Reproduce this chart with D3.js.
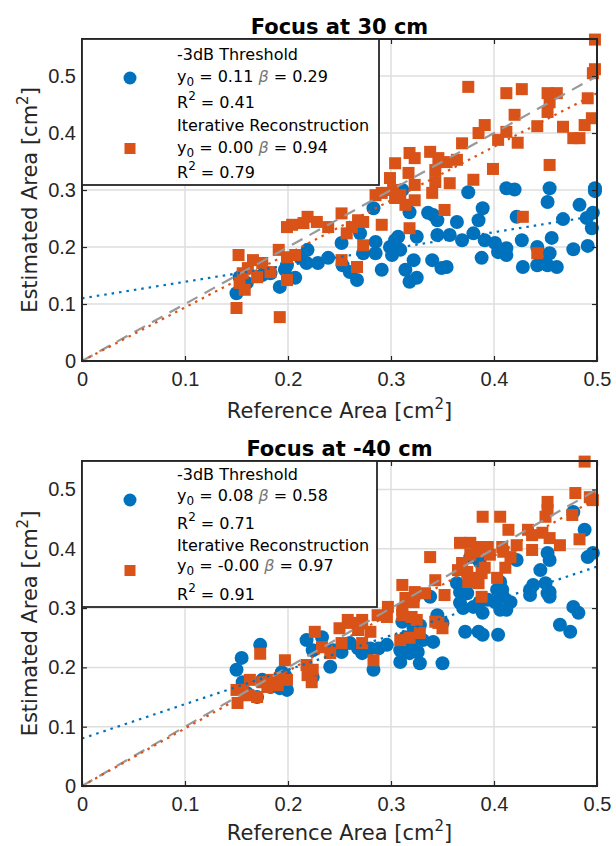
<!DOCTYPE html>
<html>
<head>
<meta charset="utf-8">
<script src="https://cdn.jsdelivr.net/npm/d3@7"></script>
<style>
  body { margin: 0; background: #fff; }
  svg { display: block; font-family: "DejaVu Sans", sans-serif; }
  .tick line { stroke: #262626; stroke-width: 1.2; }
  .tick text { fill: #262626; font-size: 20px; }
  .domain { display: none; }
</style>
</head>
<body>
<div id="chart"></div>
<script>
// ---- data ----
const xTicks = [0, 0.1, 0.2, 0.3, 0.4, 0.5];
const yTicks = [0, 0.1, 0.2, 0.3, 0.4, 0.5];
const titles = ["Focus at 30 cm", "Focus at -40 cm"];
const seriesNames = ["-3dB Threshold", "Iterative Reconstruction"];

// fit parameters: [y0, beta, R2] for threshold / iterative
const fit30 = [["0.11", "0.29", "0.41"], ["0.00", "0.94", "0.79"]];
const fit40 = [["0.08", "0.58", "0.71"], ["-0.00", "0.97", "0.91"]];
const fitNum30 = [[0.11, 0.29], [0.00, 0.94]];
const fitNum40 = [[0.08, 0.58], [0.00, 0.97]];

const blue30 = [[0.375,0.296],[0.412,0.303],[0.420,0.301],[0.454,0.303],[0.452,0.279],[0.498,0.303],[0.498,0.298],
  [0.389,0.268],[0.385,0.247],[0.364,0.244],[0.341,0.256],[0.336,0.260],[0.345,0.247],[0.483,0.274],[0.490,0.251],
  [0.496,0.260],[0.495,0.233],[0.467,0.249],[0.422,0.253],[0.357,0.221],[0.369,0.212],[0.380,0.224],[0.345,0.221],
  [0.391,0.212],[0.401,0.207],[0.404,0.191],[0.412,0.198],[0.412,0.186],[0.427,0.212],[0.456,0.216],[0.442,0.200],
  [0.454,0.189],[0.477,0.196],[0.491,0.202],[0.388,0.181],[0.428,0.165],[0.442,0.168],[0.452,0.168],[0.461,0.165],
  [0.325,0.218],[0.318,0.261],[0.307,0.218],[0.304,0.212],[0.301,0.186],[0.309,0.195],[0.314,0.160],[0.322,0.177],
  [0.318,0.139],[0.325,0.146],[0.291,0.160],[0.285,0.209],[0.285,0.189],[0.273,0.189],[0.270,0.224],[0.283,0.268],
  [0.311,0.300],[0.299,0.200],[0.340,0.177],[0.349,0.163],[0.354,0.165],[0.252,0.207],[0.253,0.168],[0.260,0.156],
  [0.267,0.142],[0.239,0.181],[0.229,0.172],[0.218,0.172],[0.219,0.195],[0.212,0.181],[0.207,0.146],[0.197,0.160],
  [0.192,0.130],[0.199,0.168],[0.183,0.154],[0.175,0.151],[0.150,0.119],[0.153,0.147],[0.160,0.137],[0.450,0.172]];

const orange30 = [[0.498,0.564],[0.498,0.512],[0.496,0.505],[0.375,0.481],[0.412,0.470],[0.427,0.477],[0.452,0.470],
  [0.461,0.470],[0.491,0.461],[0.454,0.454],[0.452,0.437],[0.420,0.432],[0.495,0.426],[0.488,0.414],[0.442,0.412],
  [0.467,0.411],[0.391,0.414],[0.385,0.400],[0.412,0.402],[0.404,0.388],[0.423,0.383],[0.477,0.391],[0.483,0.391],
  [0.369,0.382],[0.454,0.344],[0.399,0.337],[0.338,0.367],[0.318,0.365],[0.323,0.356],[0.346,0.356],[0.354,0.349],
  [0.364,0.353],[0.304,0.347],[0.343,0.335],[0.299,0.321],[0.317,0.330],[0.323,0.309],[0.343,0.314],[0.357,0.312],
  [0.380,0.318],[0.340,0.295],[0.285,0.291],[0.291,0.295],[0.302,0.300],[0.309,0.291],[0.304,0.286],[0.314,0.274],
  [0.323,0.282],[0.318,0.233],[0.428,0.253],[0.352,0.265],[0.442,0.189],[0.291,0.239],[0.273,0.244],[0.268,0.247],
  [0.262,0.235],[0.257,0.224],[0.252,0.259],[0.273,0.203],[0.252,0.177],[0.267,0.165],[0.219,0.253],[0.228,0.244],
  [0.215,0.242],[0.239,0.235],[0.199,0.235],[0.204,0.239],[0.191,0.195],[0.199,0.182],[0.207,0.186],[0.199,0.142],
  [0.152,0.186],[0.166,0.177],[0.161,0.163],[0.156,0.154],[0.170,0.147],[0.158,0.125],[0.153,0.137],[0.175,0.172],
  [0.183,0.156],[0.150,0.093],[0.192,0.077]];

const blue40 = [[0.477,0.462],[0.488,0.432],[0.491,0.386],[0.496,0.393],[0.452,0.393],[0.454,0.381],[0.445,0.364],
  [0.422,0.381],[0.377,0.386],[0.386,0.378],[0.438,0.339],[0.435,0.331],[0.450,0.342],[0.454,0.327],[0.454,0.319],
  [0.406,0.344],[0.408,0.331],[0.409,0.319],[0.401,0.310],[0.416,0.310],[0.412,0.297],[0.406,0.297],[0.403,0.331],
  [0.394,0.314],[0.364,0.342],[0.374,0.325],[0.367,0.309],[0.380,0.302],[0.370,0.300],[0.386,0.310],[0.389,0.292],
  [0.338,0.319],[0.345,0.288],[0.322,0.317],[0.477,0.302],[0.482,0.292],[0.372,0.260],[0.385,0.260],[0.389,0.255],
  [0.404,0.255],[0.464,0.272],[0.474,0.260],[0.350,0.275],[0.341,0.243],[0.350,0.207],[0.326,0.226],[0.328,0.207],
  [0.318,0.224],[0.309,0.209],[0.309,0.229],[0.317,0.234],[0.314,0.251],[0.322,0.246],[0.331,0.246],[0.311,0.277],
  [0.322,0.266],[0.328,0.271],[0.296,0.238],[0.288,0.232],[0.280,0.232],[0.272,0.224],[0.283,0.196],[0.252,0.226],
  [0.244,0.229],[0.241,0.201],[0.224,0.229],[0.218,0.246],[0.233,0.251],[0.224,0.184],[0.192,0.165],[0.199,0.162],
  [0.183,0.167],[0.194,0.192],[0.197,0.187],[0.170,0.150],[0.160,0.157],[0.173,0.238],[0.155,0.216],[0.150,0.196],
  [0.156,0.175],[0.175,0.179],[0.260,0.241],[0.268,0.232],[0.367,0.327],[0.435,0.322],[0.452,0.325]];

const orange40 = [[0.488,0.547],[0.479,0.494],[0.493,0.487],[0.496,0.482],[0.452,0.479],[0.452,0.465],[0.450,0.454],
  [0.476,0.457],[0.389,0.454],[0.406,0.454],[0.414,0.432],[0.433,0.432],[0.437,0.423],[0.447,0.427],[0.454,0.418],
  [0.464,0.406],[0.483,0.416],[0.367,0.410],[0.377,0.410],[0.386,0.403],[0.394,0.403],[0.408,0.403],[0.422,0.406],
  [0.437,0.398],[0.338,0.386],[0.377,0.390],[0.384,0.395],[0.396,0.390],[0.409,0.395],[0.416,0.386],[0.369,0.376],
  [0.365,0.364],[0.374,0.361],[0.380,0.351],[0.388,0.359],[0.391,0.368],[0.385,0.342],[0.375,0.344],[0.403,0.351],
  [0.411,0.368],[0.343,0.347],[0.352,0.322],[0.311,0.339],[0.323,0.327],[0.333,0.325],[0.314,0.317],[0.322,0.310],
  [0.388,0.319],[0.297,0.302],[0.287,0.288],[0.296,0.285],[0.311,0.288],[0.320,0.285],[0.272,0.280],[0.258,0.280],
  [0.311,0.297],[0.325,0.280],[0.343,0.277],[0.350,0.266],[0.346,0.275],[0.328,0.258],[0.318,0.250],[0.309,0.246],
  [0.250,0.266],[0.260,0.275],[0.270,0.275],[0.280,0.260],[0.268,0.263],[0.252,0.241],[0.272,0.241],[0.233,0.234],
  [0.226,0.260],[0.241,0.224],[0.283,0.212],[0.173,0.223],[0.197,0.212],[0.218,0.204],[0.224,0.196],[0.219,0.187],
  [0.223,0.175],[0.192,0.182],[0.199,0.179],[0.184,0.179],[0.175,0.175],[0.163,0.179],[0.156,0.162],[0.150,0.162],
  [0.160,0.153],[0.170,0.150],[0.180,0.167],[0.190,0.170],[0.151,0.140]];

const BLUE = "#0072BD", ORANGE = "#D95319", INK = "#262626";

const svg = d3.select("#chart").append("svg")
  .attr("width", 616).attr("height", 846);

function drawPanel(p) {
  const x = d3.scaleLinear().domain([0, 0.5]).range([82, 597]);
  const y = d3.scaleLinear().domain([0, p.ymax]).range([p.bottom, p.top]);
  const g = svg.append("g");
  const fmt = d => d === 0 ? "0" : d3.format(".1f")(d);

  // grid
  g.append("g").selectAll("line").data(xTicks.slice(1, -1)).join("line")
    .attr("x1", d => x(d)).attr("x2", d => x(d))
    .attr("y1", p.top).attr("y2", p.bottom)
    .attr("stroke", "#dedede").attr("stroke-width", 1.5);
  g.append("g").selectAll("line").data(yTicks.slice(1)).join("line")
    .attr("x1", 82).attr("x2", 597)
    .attr("y1", d => y(d)).attr("y2", d => y(d))
    .attr("stroke", "#dedede").attr("stroke-width", 1.5);

  // scatter
  g.append("g").selectAll("circle").data(p.blue).join("circle")
    .attr("cx", d => x(d[0])).attr("cy", d => y(d[1])).attr("r", 7)
    .attr("fill", BLUE);
  g.append("g").selectAll("rect").data(p.orange).join("rect")
    .attr("x", d => x(d[0]) - 6).attr("y", d => y(d[1]) - 6)
    .attr("width", 12).attr("height", 12)
    .attr("fill", ORANGE);

  // identity + fit lines
  const line = d3.line().x(d => x(d[0])).y(d => y(d[1]));
  g.append("path").attr("d", line([[0, 0], [0.5, 0.5]]))
    .attr("fill", "none").attr("stroke", "#999").attr("stroke-width", 2.2)
    .attr("stroke-dasharray", "12,8");
  [BLUE, ORANGE].forEach((c, i) => {
    const f = p.fitNum[i];
    g.append("path").attr("d", line([[0, f[0]], [0.5, f[0] + 0.5 * f[1]]]))
      .attr("fill", "none").attr("stroke", c).attr("stroke-width", 2.2)
      .attr("stroke-dasharray", "2.5,5");
  });

  // axes (ticks inward, mirrored)
  g.append("g").attr("transform", `translate(0,${p.bottom})`)
    .call(d3.axisBottom(x).tickValues(xTicks).tickFormat(fmt).tickSize(-5).tickPadding(11));
  g.append("g").attr("transform", `translate(0,${p.top})`)
    .call(d3.axisTop(x).tickValues(xTicks).tickFormat("").tickSize(-5));
  g.append("g").attr("transform", "translate(82,0)")
    .call(d3.axisLeft(y).tickValues(yTicks).tickFormat(fmt).tickSize(-5).tickPadding(6));
  g.append("g").attr("transform", "translate(597,0)")
    .call(d3.axisRight(y).tickValues(yTicks).tickFormat("").tickSize(-5));

  g.append("rect").attr("x", 82).attr("y", p.top)
    .attr("width", 515).attr("height", p.bottom - p.top)
    .attr("fill", "none").attr("stroke", INK).attr("stroke-width", 2);

  // title
  g.append("text").attr("x", 339.5).attr("y", p.top - 5)
    .attr("text-anchor", "middle").attr("font-weight", "bold")
    .attr("font-size", 21).attr("fill", "#000").text(p.title);

  // x label
  const xl = g.append("text").attr("x", 339.5).attr("y", p.bottom + p.xlabOff)
    .attr("text-anchor", "middle").attr("font-size", 21).attr("fill", INK);
  xl.append("tspan").text("Reference Area [cm");
  xl.append("tspan").attr("dy", -9).attr("font-size", 15).text("2");
  xl.append("tspan").attr("dy", 9).text("]");

  // y label
  const yl = g.append("text")
    .attr("transform", `translate(37,${(p.top + p.bottom) / 2}) rotate(-90)`)
    .attr("text-anchor", "middle").attr("font-size", 21).attr("fill", INK);
  yl.append("tspan").text("Estimated Area [cm");
  yl.append("tspan").attr("dy", -9).attr("font-size", 15).text("2");
  yl.append("tspan").attr("dy", 9).text("]");

  // legend
  const lg = g.append("g");
  lg.append("rect").attr("x", 82).attr("y", p.top)
    .attr("width", p.legW).attr("height", p.legH)
    .attr("fill", "#fff").attr("stroke", INK).attr("stroke-width", 1.8);
  lg.append("circle").attr("cx", 130).attr("cy", p.top + 39).attr("r", 6.5).attr("fill", BLUE);
  lg.append("rect").attr("x", 124.5).attr("y", p.top + 104).attr("width", 11).attr("height", 11).attr("fill", ORANGE);

  const b = p.lineY;
  p.fit.forEach((f, i) => {
    const o = i * 3;
    lg.append("text").attr("x", 177).attr("y", p.top + b[o])
      .attr("font-size", 16).attr("fill", "#000").text(seriesNames[i]);
    const t2 = lg.append("text").attr("x", 177).attr("y", p.top + b[o + 1])
      .attr("font-size", 16).attr("fill", "#000");
    t2.append("tspan").text("y");
    t2.append("tspan").attr("dy", 4).attr("font-size", 12).text("0");
    t2.append("tspan").attr("dy", -4).text(` = ${f[0]} `);
    t2.append("tspan").attr("font-style", "italic").attr("fill", "#777").text("β");
    t2.append("tspan").text(` = ${f[1]}`);
    const t3 = lg.append("text").attr("x", 177).attr("y", p.top + b[o + 2])
      .attr("font-size", 16).attr("fill", "#000");
    t3.append("tspan").text("R");
    t3.append("tspan").attr("dy", -8).attr("font-size", 12).text("2");
    t3.append("tspan").attr("dy", 8).text(" = " + f[2]);
  });
}

drawPanel({
  title: titles[0], top: 39, bottom: 361, ymax: 0.565, xlabOff: 57,
  blue: blue30, orange: orange30, fit: fit30, fitNum: fitNum30,
  legW: 297, legH: 146, lineY: [21, 43, 69, 92, 114, 139]
});
drawPanel({
  title: titles[1], top: 461, bottom: 786, ymax: 0.548, xlabOff: 54,
  blue: blue40, orange: orange40, fit: fit40, fitNum: fitNum40,
  legW: 295, legH: 146, lineY: [19, 40, 68, 90, 110, 139]
});
</script>
</body>
</html>
